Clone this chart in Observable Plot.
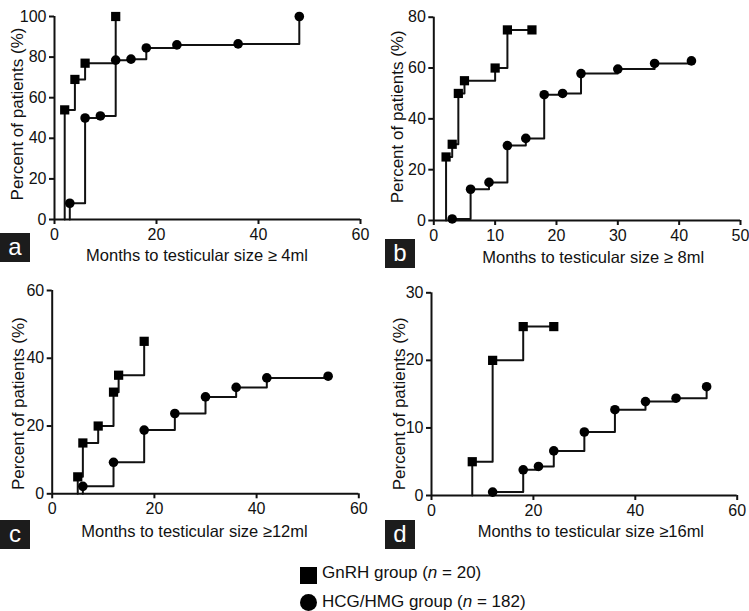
<!DOCTYPE html>
<html>
<head>
<meta charset="utf-8">
<script src="https://cdn.jsdelivr.net/npm/d3@7"></script>
<script src="https://cdn.jsdelivr.net/npm/@observablehq/plot@0.6"></script>
<style>
  html, body { margin: 0; padding: 0; background: #fff; }
  #root { position: relative; width: 749px; height: 611px; background: #fff; overflow: hidden;
          font-family: "Liberation Sans", Arial, sans-serif; color: #111; }
  .panel { position: absolute; }
  .tag { position: absolute; width: 30px; height: 29px; background: #1c1c1c; color: #fff;
         font-size: 24px; line-height: 27px; text-align: center; z-index: 2; }
  .leg { position: absolute; font-size: 17px; white-space: nowrap; }
  .sym { position: absolute; background: #000; }
</style>
</head>
<body>
<div id="root"></div>
<script>
// ---------- data ----------
const yTitle = "Percent of patients (%)";
const legendGnrh = "GnRH group";
const legendGnrhN = "20";
const legendHcg = "HCG/HMG group";
const legendHcgN = "182";

// panel a : testicular size >= 4 ml
const aTitle = "Months to testicular size \u2265 4ml";
const aXTicks = [0, 20, 40, 60];
const aYTicks = [0, 20, 40, 60, 80, 100];
const aGnrhMonths = [2, 4, 6, 12];
const aGnrhPct = [54, 69, 77, 100];
const aHcgMonths = [3, 6, 9, 12, 15, 18, 24, 36, 48];
const aHcgPct = [8, 50, 51, 78.5, 79, 84.5, 86, 86.5, 100];

// panel b : >= 8 ml
const bTitle = "Months to testicular size \u2265 8ml";
const bXTicks = [0, 10, 20, 30, 40, 50];
const bYTicks = [0, 20, 40, 60, 80];
const bGnrhMonths = [2, 3, 4, 5, 10, 12, 16];
const bGnrhPct = [25, 30, 50, 55, 60, 75, 75];
const bHcgMonths = [3, 6, 9, 12, 15, 18, 21, 24, 30, 36, 42];
const bHcgPct = [0.6, 12.3, 15, 29.5, 32.3, 49.5, 50, 57.8, 59.6, 61.8, 62.8];

// panel c : >= 12 ml
const cTitle = "Months to testicular size \u226512ml";
const cXTicks = [0, 20, 40, 60];
const cYTicks = [0, 20, 40, 60];
const cGnrhMonths = [5, 6, 9, 12, 13, 18];
const cGnrhPct = [5, 15, 20, 30, 35, 45];
const cHcgMonths = [6, 12, 18, 24, 30, 36, 42, 54];
const cHcgPct = [2.2, 9.3, 18.8, 23.7, 28.6, 31.4, 34.2, 34.7];

// panel d : >= 16 ml
const dTitle = "Months to testicular size \u226516ml";
const dXTicks = [0, 20, 40, 60];
const dYTicks = [0, 10, 20, 30];
const dGnrhMonths = [8, 12, 18, 24];
const dGnrhPct = [5, 20, 25, 25];
const dHcgMonths = [12, 18, 21, 24, 30, 36, 42, 48, 54];
const dHcgPct = [0.5, 3.8, 4.3, 6.6, 9.4, 12.7, 13.9, 14.4, 16.1];

// ---------- layout ----------
const panels = [
  {tag: "a", left: 0, top: 0, width: 370, height: 270, mL: 54, mR: 10, mT: 16, mB: 51,
   xDomain: [0, 60], yDomain: [0, 100], xTicks: aXTicks, yTicks: aYTicks, title: aTitle,
   gM: aGnrhMonths, gP: aGnrhPct, hM: aHcgMonths, hP: aHcgPct,
   xtDx: -10.5, xtDy: 30, ytDx: -36.5, ytDy: -4, tagX: 0, tagY: 233},
  {tag: "b", left: 370, top: 0, width: 379, height: 270, mL: 63.3, mR: 9, mT: 16.7, mB: 50,
   xDomain: [0, 50], yDomain: [0, 80], xTicks: bXTicks, yTicks: bYTicks, title: bTitle,
   gM: bGnrhMonths, gP: bGnrhPct, hM: bHcgMonths, hP: bHcgPct,
   xtDx: 6, xtDy: 31, ytDx: -36, ytDy: -2, tagX: 385, tagY: 239},
  {tag: "c", left: 0, top: 270, width: 370, height: 280, mL: 51.7, mR: 11.7, mT: 20, mB: 56.7,
   xDomain: [0, 60], yDomain: [0, 60], xTicks: cXTicks, yTicks: cYTicks, title: cTitle,
   gM: cGnrhMonths, gP: cGnrhPct, hM: cHcgMonths, hP: cHcgPct,
   xtDx: -11, xtDy: 31.5, ytDx: -34, ytDy: 11.5, tagX: 0, tagY: 520},
  {tag: "d", left: 370, top: 270, width: 379, height: 280, mL: 61, mR: 12.3, mT: 22.3, mB: 55,
   xDomain: [0, 60], yDomain: [0, 30], xTicks: dXTicks, yTicks: dYTicks, title: dTitle,
   gM: dGnrhMonths, gP: dGnrhPct, hM: dHcgMonths, hP: dHcgPct,
   xtDx: 6.5, xtDy: 30, ytDx: -32, ytDy: 9.7, tagX: 385, tagY: 520}
];

const root = document.getElementById("root");

function pts(months, pct) { return months.map((m, i) => ({m, p: pct[i]})); }
function stepLine(months, pct) { return [{m: months[0], p: 0}, ...pts(months, pct)]; }

for (const P of panels) {
  const svg = Plot.plot({
    width: P.width, height: P.height,
    marginLeft: P.mL, marginRight: P.mR, marginTop: P.mT, marginBottom: P.mB,
    style: {fontFamily: "'Liberation Sans', Arial, sans-serif", fontSize: "16px", color: "#111",
            background: "transparent", overflow: "visible"},
    x: {domain: P.xDomain},
    y: {domain: P.yDomain},
    marks: [
      Plot.axisX({ticks: P.xTicks, tickSize: 5, tickPadding: 4, strokeWidth: 2, label: null, tickFormat: d => String(d)}),
      Plot.axisY({ticks: P.yTicks, tickSize: 5, tickPadding: 3, strokeWidth: 2, label: null, tickFormat: d => String(d)}),
      Plot.ruleY([0], {strokeWidth: 2, stroke: "#111"}),
      Plot.ruleX([0], {strokeWidth: 2, stroke: "#111"}),
      Plot.line(stepLine(P.gM, P.gP), {x: "m", y: "p", curve: "step-after", stroke: "#111", strokeWidth: 2}),
      Plot.line(stepLine(P.hM, P.hP), {x: "m", y: "p", curve: "step-after", stroke: "#111", strokeWidth: 2}),
      Plot.dot(pts(P.gM, P.gP), {x: "m", y: "p", symbol: "square", fill: "#000", r: 5.2}),
      Plot.dot(pts(P.hM, P.hP), {x: "m", y: "p", symbol: "circle", fill: "#000", r: 4.8}),
      Plot.text([P.title], {text: d => d, frameAnchor: "bottom", lineAnchor: "top", textAnchor: "middle",
                            dx: P.xtDx, dy: P.xtDy, fontSize: 16.5}),
      Plot.text([yTitle], {text: d => d, frameAnchor: "left", rotate: -90, textAnchor: "middle",
                           lineAnchor: "middle", dx: P.ytDx, dy: P.ytDy, fontSize: 17})
    ]
  });
  const wrap = document.createElement("div");
  wrap.className = "panel";
  wrap.style.left = P.left + "px";
  wrap.style.top = P.top + "px";
  wrap.appendChild(svg);
  root.appendChild(wrap);

  const tag = document.createElement("div");
  tag.className = "tag";
  tag.style.left = P.tagX + "px";
  tag.style.top = P.tagY + "px";
  tag.textContent = P.tag;
  root.appendChild(tag);
}

// ---------- legend ----------
function legendRow(symbolShape, label, n, symTop, textTop) {
  const s = document.createElement("div");
  s.className = "sym";
  s.style.left = "300px";
  s.style.top = symTop + "px";
  s.style.width = "17px";
  s.style.height = "17px";
  if (symbolShape === "circle") s.style.borderRadius = "50%";
  root.appendChild(s);
  const t = document.createElement("div");
  t.className = "leg";
  t.style.left = "322px";
  t.style.top = textTop + "px";
  t.innerHTML = label + " (<i>n</i> = " + n + ")";
  root.appendChild(t);
}
legendRow("square", legendGnrh, legendGnrhN, 567, 563);
legendRow("circle", legendHcg, legendHcgN, 594, 592);
</script>
</body>
</html>
